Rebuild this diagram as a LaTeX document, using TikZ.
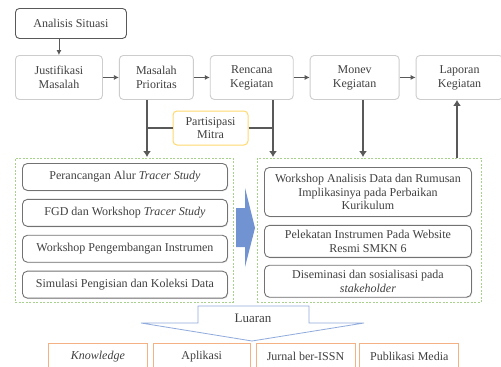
\documentclass[tikz,border=0pt]{standalone}
\usepackage{fontspec}
\setmainfont{Liberation Serif}
\usepackage{tikz}
\usetikzlibrary{shapes,arrows,arrows.meta,positioning,shadows}
\definecolor{boxgray}{RGB}{89,89,89}
\definecolor{stepgray}{RGB}{205,205,205}
\definecolor{txtgray}{RGB}{64,64,64}
\definecolor{mitra}{RGB}{255,217,110}
\definecolor{dashgreen}{RGB}{169,209,142}
\definecolor{arrowblue}{RGB}{114,147,210}
\definecolor{luaranblue}{RGB}{143,170,220}
\definecolor{outorange}{RGB}{244,177,131}
\tikzstyle{topbox} = [rectangle, rounded corners=4pt, draw=stepgray, line width=0.9pt, fill=white, text=txtgray, align=center, font=\fontsize{12}{14}\selectfont, minimum height=44pt, inner sep=1pt]
\tikzstyle{startbox} = [topbox, draw=boxgray, minimum width=111pt, minimum height=30pt]
\tikzstyle{actbox} = [rectangle, rounded corners=5pt, draw=boxgray!85, line width=0.9pt, fill=white, text=txtgray, align=center, font=\fontsize{12}{13.5}\selectfont, inner sep=1pt, drop shadow={opacity=0.2, shadow xshift=0.8pt, shadow yshift=-0.9pt}]
\tikzstyle{groupbox} = [rectangle, draw=dashgreen, dash pattern=on 2pt off 1.5pt, line width=0.8pt, inner sep=0pt]
\tikzstyle{mitrabox} = [rectangle, rounded corners=4pt, draw=mitra, line width=1pt, fill=white, text=txtgray, align=center, font=\fontsize{12}{13}\selectfont, minimum width=75pt, minimum height=34pt, inner sep=1pt]
\tikzstyle{outbox} = [rectangle, draw=outorange, line width=0.8pt, fill=white, text=txtgray, font=\fontsize{12}{14}\selectfont, minimum height=26pt, inner sep=0pt]
\tikzstyle{sedge} = [draw, boxgray, line width=0.8pt, -{Latex[length=5pt,width=5pt]}]
\tikzstyle{tedge} = [draw, boxgray, line width=2.2pt, -{Latex[length=6pt,width=8pt]}]
\tikzstyle{tline} = [draw, boxgray, line width=2.2pt]

\begin{document}
\begin{tikzpicture}[x=1pt,y=-1pt]
\clip (0,0) rectangle (501,367);
\fill[white] (0,0) rectangle (501,367);

% top row =============================
\node[startbox, anchor=north west] (anal) at (15,8) {Analisis Situasi};
\node[topbox, anchor=north west, minimum width=87pt] (just) at (15,55) {Justifikasi\\Masalah};
\node[topbox, right=16pt of just, minimum width=74pt] (mas) {Masalah\\Prioritas};
\node[topbox, right=16pt of mas, minimum width=83pt] (ren) {Rencana\\Kegiatan};
\node[topbox, right=16pt of ren, minimum width=89pt] (mon) {Monev\\Kegiatan};
\node[topbox, right=16pt of mon, minimum width=87pt] (lap) {Laporan\\Kegiatan};

% groups ==============================
\node[groupbox, anchor=north west, minimum width=218pt, minimum height=144pt] (grpA) at (15,158) {};
\node[groupbox, anchor=north west, minimum width=224pt, minimum height=144pt] (grpB) at (257,158) {};

\node[actbox, anchor=north west, minimum width=205pt, minimum height=27pt] (kegA1) at (22,163) {Perancangan Alur \textit{Tracer Study}};
\node[actbox, below=8pt of kegA1, minimum width=205pt, minimum height=27pt] (kegA2) {FGD dan Workshop \textit{Tracer Study}};
\node[actbox, below=8pt of kegA2, minimum width=205pt, minimum height=27pt] (kegA3) {Workshop Pengembangan Instrumen};
\node[actbox, below=8pt of kegA3, minimum width=205pt, minimum height=27pt] (kegA4) {Simulasi Pengisian dan Koleksi Data};

\node[actbox, anchor=north west, minimum width=207pt, minimum height=49pt] (kegB1) at (264,167) {Workshop Analisis Data dan Rumusan\\Implikasinya pada Perbaikan\\Kurikulum};
\node[actbox, below=8pt of kegB1, minimum width=207pt, minimum height=32pt] (kegB2) {Pelekatan Instrumen Pada Website\\Resmi SMKN 6};
\node[actbox, below=7pt of kegB2, minimum width=207pt, minimum height=32pt] (kegB3) {Diseminasi dan sosialisasi pada\\\textit{stakeholder}};

% outputs =============================
\draw[luaranblue, line width=0.8pt, fill=white] (198,306) -- (309,306) -- (309,323) -- (364,323) -- (252,341) -- (141,323) -- (198,323) -- cycle;
\node[text=txtgray, font=\fontsize{13}{14}\selectfont] (luaran) at (253,318) {Luaran};

\node[outbox, anchor=north west, minimum width=99pt] (out1) at (48,343) {\textit{Knowledge}};
\node[outbox, right=5pt of out1, minimum width=97pt] (out2) {Aplikasi};
\node[outbox, right=5pt of out2, minimum width=99pt] (out3) {Jurnal ber-ISSN};
\node[outbox, right=4pt of out3, minimum width=99pt] (out4) {Publikasi Media};

\fill[arrowblue] (236,208) -- (245,208) -- (245,188) -- (255,228) -- (245,267) -- (245,247) -- (236,247) -- cycle;

% edges
\coordinate (x1) at (147,157);
\coordinate (x2) at (273,157);
\coordinate (x3) at (363,157);
\coordinate (x4) at (457,158);

\path[sedge] (anal.south -| just.north) -- (just.north);
\path[sedge] (just) -- (mas);
\path[sedge] (mas) -- (ren);
\path[sedge] (ren) -- (mon);
\path[sedge] (mon) -- (lap);

\path[tedge] (mas.south -| x1) -- (x1);
\path[tedge] (ren.south -| x2) -- (x2);
\path[tedge] (mon.south -| x3) -- (x3);
\path[tedge] (x4) -- (lap.south -| x4);

\node[mitrabox] (mitra) at (210.5,128) {Partisipasi\\Mitra};
\path[tline] (mitra.west) -- (mitra.west -| x1);
\path[tline] (mitra.east) -- (mitra.east -| x2);

\end{tikzpicture}
\end{document}
